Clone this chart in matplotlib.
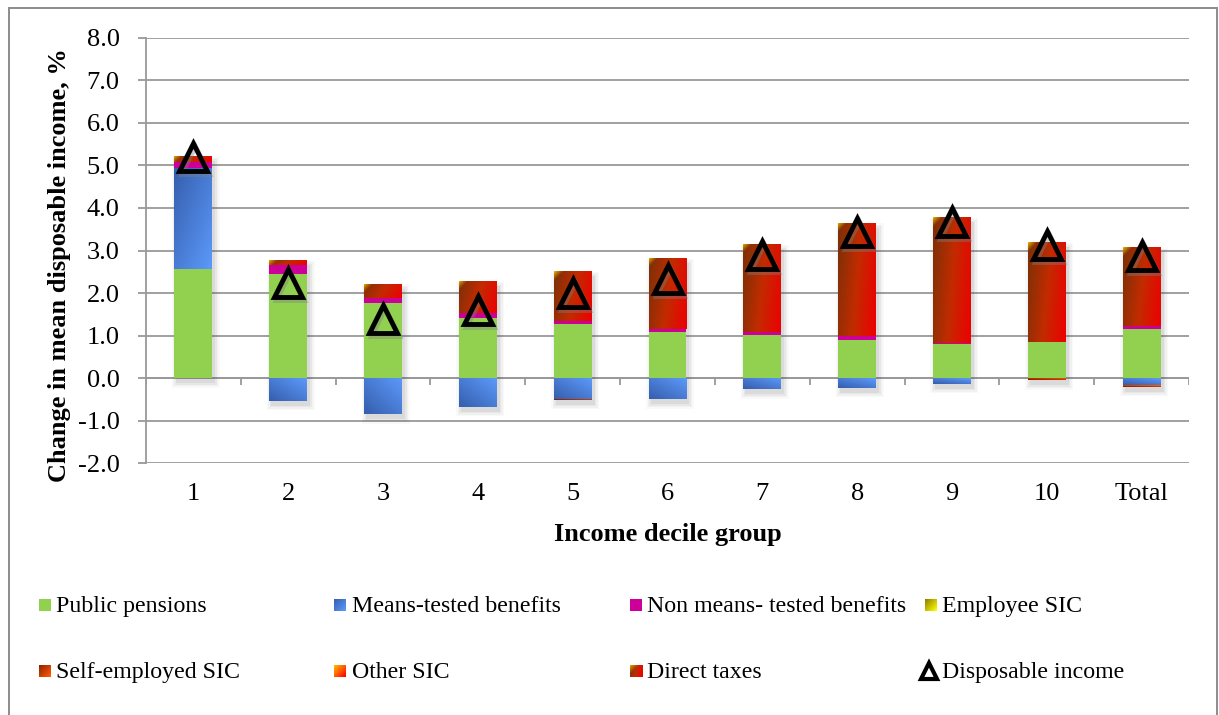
import matplotlib
matplotlib.use("Agg")
import matplotlib.pyplot as plt
import matplotlib.transforms as mtransforms
from matplotlib.patches import Rectangle
import numpy as np

plt.rcParams['font.family'] = ['Liberation Serif', 'DejaVu Serif']

categories = ['1', '2', '3', '4', '5', '6', '7', '8', '9', '10', 'Total']
public_pensions = [2.56, 2.44, 1.77, 1.42, 1.27, 1.08, 1.01, 0.89, 0.81, 0.85, 1.15]
means_tested = [2.37, -0.53, -0.85, -0.67, -0.48, -0.49, -0.26, -0.23, -0.13, 0.00, -0.16]
non_means_tested = [0.15, 0.21, 0.11, 0.10, 0.07, 0.07, 0.07, 0.10, 0.02, 0.00, 0.08]
employee_sic = [0.0] * 11
self_employed_sic = [0.0, 0.0, 0.0, 0.0, -0.03, 0.0, 0.0, 0.0, 0.0, -0.05, -0.04]
other_sic = [0.0] * 11
direct_taxes = [0.15, 0.12, 0.34, 0.76, 1.17, 1.67, 2.07, 2.66, 2.95, 2.34, 1.85]
disposable_income = [5.19, 2.23, 1.38, 1.60, 2.00, 2.32, 2.89, 3.43, 3.67, 3.12, 2.86]

W, H = 1219, 715
fig = plt.figure(figsize=(W / 100, H / 100), dpi=100)
left, right, top, bottom = 146, 1189, 37.7, 463.3
ax = fig.add_axes([left / W, 1 - bottom / H, (right - left) / W, (bottom - top) / H])

ymin, ymax = -2, 8
PX_X = (right - left) / len(categories)
PX_Y = (bottom - top) / (ymax - ymin)


def lerp(c0, c1, t):
    c0 = np.array(c0)
    c1 = np.array(c1)
    return c0 + (c1 - c0) * t[..., None]


def diag(c0, c1):
    def f(u, v, wpx, hpx):
        return lerp(c0, c1, np.clip((u + v) / 2, 0, 1))
    return f


def tax_grad(u, v, wpx, hpx):
    t = np.clip(0.8 * u + 0.2 * v, 0, 1)
    lo = lerp((0.48, 0.19, 0.03), (0.76, 0.17, 0.0), np.clip(t * 2, 0, 1))
    hi = lerp((0.76, 0.17, 0.0), (0.93, 0.0, 0.0), np.clip(t * 2 - 1, 0, 1))
    base = np.where((t < 0.5)[..., None], lo, hi)
    w = np.clip(1 - (u * wpx + v * hpx) / 9.0, 0, 1)[..., None]
    return base * (1 - w) + np.array((0.88, 0.68, 0.0)) * w


def grad_image(func, wpx, hpx):
    nc = max(int(wpx), 2)
    nr = max(int(hpx), 2)
    u, v = np.meshgrid(np.linspace(0, 1, nc), np.linspace(0, 1, nr))
    return np.clip(func(u, v, wpx, hpx), 0, 1)


series = [
    ('Public pensions', public_pensions, '#92D050', None),
    ('Means-tested benefits', means_tested, '#4a7fd8', diag((0.21, 0.37, 0.68), (0.36, 0.60, 0.98))),
    ('Non means- tested benefits', non_means_tested, '#CC0099', None),
    ('Employee SIC', employee_sic, '#d8d000', diag((0.55, 0.48, 0.0), (1.0, 1.0, 0.0))),
    ('Self-employed SIC', self_employed_sic, '#c84000', diag((0.55, 0.13, 0.0), (1.0, 0.36, 0.0))),
    ('Other SIC', other_sic, '#ff6000', diag((1.0, 0.75, 0.0), (1.0, 0.0, 0.0))),
    ('Direct taxes', direct_taxes, '#b02000', tax_grad),
]

x = np.arange(len(categories))
bw = 0.4
pos_bottom = np.zeros(len(x))
neg_bottom = np.zeros(len(x))

# soft drop shadow behind each stacked column
all_vals = np.array([s[1] for s in series])
col_top = np.where(all_vals > 0, all_vals, 0).sum(axis=0)
col_bot = np.where(all_vals < 0, all_vals, 0).sum(axis=0)
for i in x:
    for k, a in zip([0, 1.5, 3, 4.5], [0.07, 0.05, 0.04, 0.03]):
        x0 = i - bw / 2 + (2 - k) / PX_X
        wd = bw + 2 * k / PX_X + 1 / PX_X
        y0 = col_bot[i] - (5 + k) / PX_Y
        ht = col_top[i] - col_bot[i] + 2 * k / PX_Y
        ax.add_patch(Rectangle((x0, y0), wd, ht, facecolor='#404040', edgecolor='none',
                               alpha=a, zorder=2))

for name, vals, color, grad in series:
    vals = np.array(vals)
    b = np.where(vals >= 0, pos_bottom, neg_bottom)
    bars = ax.bar(x, vals, bw, bottom=b, color=color, edgecolor='none', zorder=3)
    if grad is not None:
        for p, v in zip(bars.patches, vals):
            if v == 0:
                continue
            bb = p.get_bbox()
            img = grad_image(grad, bw * PX_X, abs(v) * PX_Y)
            im = ax.imshow(img, extent=[bb.x0, bb.x1, bb.y0, bb.y1], origin='upper',
                           aspect='auto', interpolation='bilinear', zorder=3.5)
            im.set_clip_path(p)
    pos_bottom += np.where(vals > 0, vals, 0)
    neg_bottom += np.where(vals < 0, vals, 0)

shadow_tr = mtransforms.offset_copy(ax.transData, fig=fig, x=2, y=-3, units='dots')
ax.plot(x, disposable_income, linestyle='none', marker='^', markersize=19.5, mew=3.5,
        mfc='none', mec='#808080', alpha=0.4, transform=shadow_tr, zorder=4)
ax.plot(x, disposable_income, linestyle='none', marker='^', markersize=19.5, mew=3.5,
        mfc='none', mec='black', zorder=5)

ax.set_xlim(-0.5, len(x) - 0.5)
ax.set_ylim(ymin, ymax)

grid_c = '#999999'
for s in ['top', 'right', 'bottom']:
    ax.spines[s].set_visible(False)
ax.spines['left'].set_color(grid_c)
ax.spines['left'].set_linewidth(1.3)
ax.set_yticks(np.arange(ymin, ymax + 0.1, 1))
ax.set_yticklabels([f'{v:.1f}' for v in np.arange(ymin, ymax + 0.1, 1)])
ax.yaxis.grid(True, color=grid_c, linewidth=1.3, zorder=0)
ax.set_axisbelow(True)
ax.tick_params(axis='y', length=6, width=1.3, color=grid_c, labelsize=19, pad=13)
ax.set_xticks(x)
ax.set_xticklabels(categories)
ax.tick_params(axis='x', length=0, labelsize=19, pad=14)

# category axis at zero with tick marks between categories
ax.axhline(0, color=grid_c, linewidth=1.3, zorder=1)
ax.vlines(np.arange(-0.5, len(x)), -7 / PX_Y, 0, color=grid_c, linewidth=1.3, zorder=1)

ax.set_xlabel('Income decile group', fontsize=19, fontweight='bold')
ax.xaxis.set_label_coords(0.5, (H - 534 - (H - bottom)) / (bottom - top))
ax.xaxis.label.set_va('center')
ax.set_ylabel('Change in mean disposable income, %', fontsize=19, fontweight='bold')
ax.yaxis.set_label_coords((60 - left) / (right - left), (H - 265 - (H - bottom)) / (bottom - top))
ax.yaxis.label.set_va('center')

# legend laid out in two rows below the plot
cols = [(39, 56), (334, 352), (630, 647), (925, 942)]
rows = [612, 678]
entries = [s for s in series] + [('Disposable income', None, None, 'tri')]
for n, (name, vals, color, grad) in enumerate(entries):
    r, c = divmod(n, 4)
    mx, tx = cols[c]
    base = rows[r]
    fig.text(tx / W, 1 - base / H, name, fontsize=17.2, va='baseline', ha='left')
    if grad == 'tri':
        fig.lines.append(plt.Line2D([(mx + 4) / W], [1 - (base - 7) / H], marker='^',
                                    markersize=11.5, mew=3.0, mfc='white', mec='black',
                                    transform=fig.transFigure))
        continue
    lax = fig.add_axes([mx / W, 1 - (base - 1) / H, 12 / W, 12 / H])
    lax.set_axis_off()
    if grad is None:
        lax.add_patch(Rectangle((0, 0), 1, 1, facecolor=color, edgecolor='none'))
        lax.set_xlim(0, 1)
        lax.set_ylim(0, 1)
    else:
        lax.imshow(grad_image(grad, 12, 12), extent=[0, 1, 0, 1], aspect='auto',
                   interpolation='bilinear', origin='upper')

fig.patches.append(Rectangle((9 / W, -0.05), (1217 - 9) / W, (H - 8) / H + 0.05,
                             transform=fig.transFigure, fill=False,
                             edgecolor='#8c8c8c', linewidth=1.4))

fig.savefig('out.png', dpi=100)
